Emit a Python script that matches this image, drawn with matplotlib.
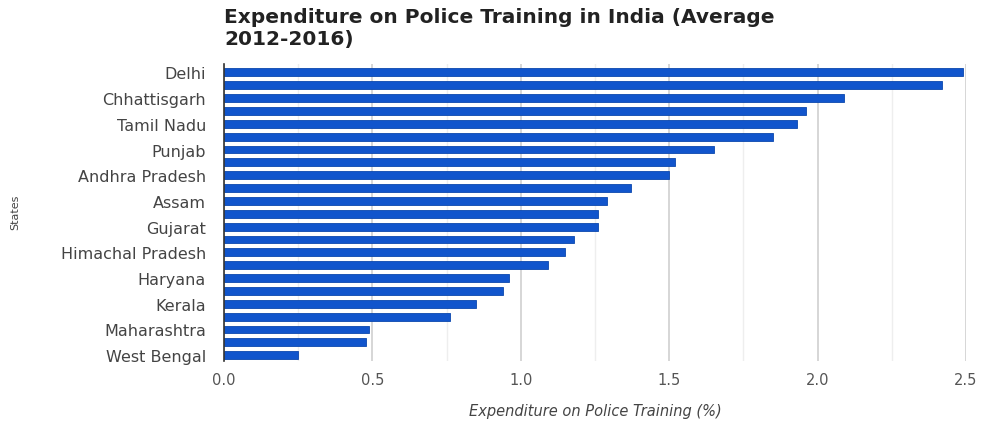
import numpy as np
import matplotlib
matplotlib.use("Agg")
import matplotlib.pyplot as plt
from matplotlib.ticker import MultipleLocator

# every other bar carries a state label in the original chart
state_labels = ["Delhi", "Chhattisgarh", "Tamil Nadu", "Punjab", "Andhra Pradesh",
                "Assam", "Gujarat", "Himachal Pradesh", "Haryana", "Kerala",
                "Maharashtra", "West Bengal"]
expenditure = [2.49, 2.42, 2.09, 1.96, 1.93, 1.85, 1.65, 1.52, 1.50, 1.37, 1.29, 1.26,
               1.26, 1.18, 1.15, 1.09, 0.96, 0.94, 0.85, 0.76, 0.49, 0.48, 0.25]
x_ticks = [0.0, 0.5, 1.0, 1.5, 2.0, 2.5]

plt.rcParams["font.family"] = ["DejaVu Sans"]

fig = plt.figure(figsize=(9.84, 4.27), dpi=100)
ax = fig.add_axes([224 / 984, 1 - 362 / 427, 742 / 984, 297 / 427])

pos = np.arange(len(expenditure))
ax.barh(pos, expenditure, height=0.62, color="#1155cc", edgecolor="#0b47ad",
        linewidth=0.6, zorder=3)

ax.set_xlim(0, 2.5)
ax.set_ylim(22.45, -0.65)
ax.set_xticks(x_ticks)
ax.set_xticklabels([f"{t:.1f}" for t in x_ticks], color="#555555", fontsize=10.5)
ax.xaxis.set_minor_locator(MultipleLocator(0.25))
ax.set_yticks(pos[::2])
ax.set_yticklabels(state_labels, color="#444444", fontsize=11.5)
ax.tick_params(axis="both", which="both", length=0)
ax.tick_params(axis="x", pad=8)
ax.tick_params(axis="y", pad=13)

ax.grid(axis="x", which="major", color="#d0d0d0", linewidth=1.2, zorder=0)
ax.grid(axis="x", which="minor", color="#eeeeee", linewidth=1.0, zorder=0)
for s in ["top", "right", "bottom"]:
    ax.spines[s].set_visible(False)
ax.spines["left"].set_color("#333333")
ax.spines["left"].set_linewidth(1.2)
ax.spines["left"].set_zorder(4)

fig.text(595 / 984, 1 - 412 / 427, "Expenditure on Police Training (%)",
         fontsize=10.5, style="italic", color="#444444", ha="center", va="center")
fig.text(15 / 984, 1 - 212 / 427, "States", rotation=90, fontsize=8,
         color="#444444", ha="center", va="center")
fig.text(224 / 984, 1 - 8 / 427,
         "Expenditure on Police Training in India (Average\n2012-2016)",
         fontsize=14.5, fontweight="bold", color="#222222", ha="left", va="top",
         linespacing=1.2)

fig.savefig("out.png", dpi=100, facecolor="white")
